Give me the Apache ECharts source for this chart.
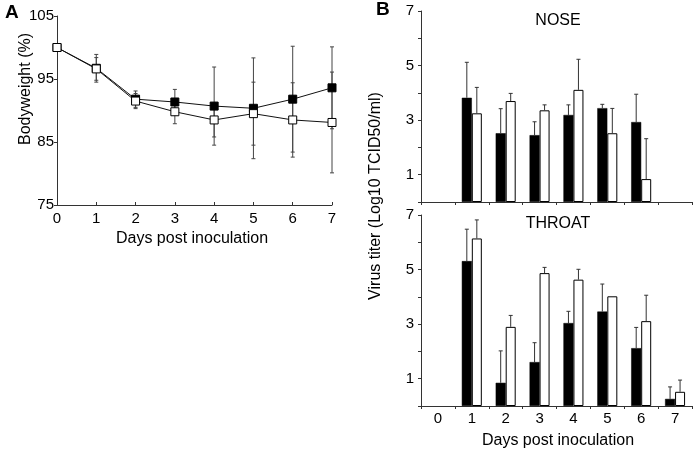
<!DOCTYPE html>
<html><head><meta charset="utf-8">
<script src="https://cdn.jsdelivr.net/npm/echarts@6/dist/echarts.min.js"></script>
<style>html,body{margin:0;padding:0;background:#fff}#c{width:696px;height:455px}</style>
</head><body><div id="c"></div>
<script>
var days = ['0','1','2','3','4','5','6','7'];
var weightFilled = [100, 96.7, 91.8, 91.35, 90.7, 90.35, 91.8, 93.6];
var weightFilledErr = [0, 2.2, 1.3, 2.0, 6.2, 8.0, 8.4, 6.5];
var weightOpen = [100, 96.6, 91.5, 89.8, 88.5, 89.5, 88.5, 88.1];
var weightOpenErr = [0, 1.8, 1.2, 1.9, 2.7, 5.0, 5.9, 8.0];
var weightTicks = [75, 85, 95, 105];

var noseFilled = [null, 3.82, 2.52, 2.45, 3.19, 3.44, 2.93, null];
var noseFilledErr = [null, 1.3, 0.9, 0.49, 0.37, 0.14, 1.02, null];
var noseOpen = [null, 3.25, 3.7, 3.36, 4.11, 2.52, 0.84, null];
var noseOpenErr = [null, 0.95, 0.28, 0.2, 1.12, 0.91, 1.48, null];

var throatFilled = [null, 5.31, 0.85, 1.61, 3.04, 3.46, 2.12, 0.26];
var throatFilledErr = [null, 1.17, 1.17, 0.71, 0.43, 1.01, 0.76, 0.44];
var throatOpen = [null, 6.14, 2.9, 4.87, 4.63, 4.02, 3.11, 0.52];
var throatOpenErr = [null, 0.68, 0.42, 0.21, 0.38, 0, 0.95, 0.43];
var titerLabels = [1, 3, 5, 7];

var FONT = 'Liberation Sans, Arial, sans-serif';
var AX = '#333';
var BARW = 10;

function errData(vals, errs) {
  return vals.map(function (v, i) {
    return (v == null || !errs[i]) ? [i, null, null] : [i, v, errs[i]];
  });
}

function lineErrRender(params, api) {
  var v = api.value(1), e = api.value(2);
  if (v == null || isNaN(v) || !e) return;
  var i = api.value(0);
  var hi = api.coord([i, v + e]);
  var lo = api.coord([i, v - e]);
  var c = 2;
  return {
    type: 'group',
    children: [
      {type: 'line', shape: {x1: hi[0], y1: hi[1], x2: lo[0], y2: lo[1]}, style: {stroke: '#444', lineWidth: 1}},
      {type: 'line', shape: {x1: hi[0] - c, y1: hi[1], x2: hi[0] + c, y2: hi[1]}, style: {stroke: '#444', lineWidth: 1}},
      {type: 'line', shape: {x1: lo[0] - c, y1: lo[1], x2: lo[0] + c, y2: lo[1]}, style: {stroke: '#444', lineWidth: 1}}
    ]
  };
}

function barErrRenderer(side) {
  return function (params, api) {
    var v = api.value(1), e = api.value(2);
    if (v == null || isNaN(v) || !e) return;
    var i = api.value(0);
    var top = api.coord([i, v + e]);
    var base = api.coord([i, v]);
    var x = top[0] + side * BARW / 2;
    var c = 2;
    return {
      type: 'group',
      children: [
        {type: 'line', shape: {x1: x, y1: base[1], x2: x, y2: top[1]}, style: {stroke: '#333', lineWidth: 1}},
        {type: 'line', shape: {x1: x - c, y1: top[1], x2: x + c, y2: top[1]}, style: {stroke: '#333', lineWidth: 1}}
      ]
    };
  };
}

var chart = echarts.init(document.getElementById('c'), null, {renderer: 'canvas'});

var bAxisCommon = function (idx, showLabels) {
  return {
    type: 'category', gridIndex: idx, data: days, boundaryGap: true,
    axisLine: {lineStyle: {color: AX, width: 1}},
    axisTick: {show: true, length: 3, inside: false, lineStyle: {color: AX}},
    axisLabel: {show: showLabels, fontFamily: FONT, fontSize: 15, color: '#000', margin: 5}
  };
};
var bYAxis = function (idx) {
  return {
    type: 'value', gridIndex: idx, min: 0, max: 7, interval: 1,
    axisLine: {show: true, lineStyle: {color: AX, width: 1}},
    axisTick: {show: true, length: 3, lineStyle: {color: AX}},
    splitLine: {show: false},
    axisLabel: {fontFamily: FONT, fontSize: 15, color: '#000', margin: 7,
      formatter: function (v) { return titerLabels.indexOf(v) >= 0 ? String(v) : ''; }}
  };
};

var option = {
  animation: false,
  backgroundColor: '#fff',
  grid: [
    {left: 57, top: 16, width: 275, height: 189},
    {left: 421, top: 11, width: 271, height: 191},
    {left: 421, top: 215, width: 271, height: 191}
  ],
  xAxis: [
    {type: 'category', gridIndex: 0, data: days, boundaryGap: false,
      axisLine: {lineStyle: {color: AX, width: 1}},
      axisTick: {show: true, length: 3, inside: true, lineStyle: {color: AX}},
      axisLabel: {fontFamily: FONT, fontSize: 15, color: '#000', margin: 6}},
    bAxisCommon(1, false),
    bAxisCommon(2, true)
  ],
  yAxis: [
    {type: 'value', gridIndex: 0, min: 75, max: 105, interval: 10,
      axisLine: {show: true, lineStyle: {color: AX, width: 1}},
      axisTick: {show: true, length: 3, lineStyle: {color: AX}},
      splitLine: {show: false},
      axisLabel: {fontFamily: FONT, fontSize: 15, color: '#000', margin: 3,
        formatter: function (v) { return weightTicks.indexOf(v) >= 0 ? String(v) : ''; }}},
    bYAxis(1),
    bYAxis(2)
  ],
  series: [
    {type: 'custom', xAxisIndex: 0, yAxisIndex: 0, renderItem: lineErrRender, data: errData(weightFilled, weightFilledErr), z: 1, silent: true},
    {type: 'custom', xAxisIndex: 0, yAxisIndex: 0, renderItem: lineErrRender, data: errData(weightOpen, weightOpenErr), z: 1, silent: true},
    {type: 'line', xAxisIndex: 0, yAxisIndex: 0, data: weightFilled, symbol: 'rect', symbolSize: 8,
      lineStyle: {color: '#111', width: 1}, itemStyle: {color: '#000', borderColor: '#000', borderWidth: 1}, z: 3},
    {type: 'line', xAxisIndex: 0, yAxisIndex: 0, data: weightOpen, symbol: 'rect', symbolSize: 8,
      lineStyle: {color: '#111', width: 1}, itemStyle: {color: '#fff', borderColor: '#000', borderWidth: 1}, z: 4},

    {type: 'bar', xAxisIndex: 1, yAxisIndex: 1, data: noseFilled, barWidth: BARW, barGap: '0%',
      itemStyle: {color: '#000', borderColor: '#000', borderWidth: 0.5}},
    {type: 'bar', xAxisIndex: 1, yAxisIndex: 1, data: noseOpen, barWidth: BARW, barGap: '0%',
      itemStyle: {color: '#fff', borderColor: '#000', borderWidth: 1}},
    {type: 'custom', xAxisIndex: 1, yAxisIndex: 1, renderItem: barErrRenderer(-1), data: errData(noseFilled, noseFilledErr), z: 3, silent: true},
    {type: 'custom', xAxisIndex: 1, yAxisIndex: 1, renderItem: barErrRenderer(1), data: errData(noseOpen, noseOpenErr), z: 3, silent: true},

    {type: 'bar', xAxisIndex: 2, yAxisIndex: 2, data: throatFilled, barWidth: BARW, barGap: '0%',
      itemStyle: {color: '#000', borderColor: '#000', borderWidth: 0.5}},
    {type: 'bar', xAxisIndex: 2, yAxisIndex: 2, data: throatOpen, barWidth: BARW, barGap: '0%',
      itemStyle: {color: '#fff', borderColor: '#000', borderWidth: 1}},
    {type: 'custom', xAxisIndex: 2, yAxisIndex: 2, renderItem: barErrRenderer(-1), data: errData(throatFilled, throatFilledErr), z: 3, silent: true},
    {type: 'custom', xAxisIndex: 2, yAxisIndex: 2, renderItem: barErrRenderer(1), data: errData(throatOpen, throatOpenErr), z: 3, silent: true}
  ],
  graphic: [
    {type: 'text', left: 5, top: 3, style: {text: 'A', font: 'bold 19px ' + FONT, fill: '#000'}},
    {type: 'text', left: 376, top: 0, style: {text: 'B', font: 'bold 19px ' + FONT, fill: '#000'}},
    {type: 'text', x: 26, y: 89, rotation: Math.PI / 2,
      style: {text: 'Bodyweight (%)', font: '16px ' + FONT, fill: '#000', textAlign: 'center', textVerticalAlign: 'middle'}},
    {type: 'text', x: 376, y: 196, rotation: Math.PI / 2,
      style: {text: 'Virus titer (Log10 TCID50/ml)', font: '16px ' + FONT, fill: '#000', textAlign: 'center', textVerticalAlign: 'middle'}},
    {type: 'text', x: 192, y: 239,
      style: {text: 'Days post inoculation', font: '16px ' + FONT, fill: '#000', textAlign: 'center', textVerticalAlign: 'middle'}},
    {type: 'text', x: 558, y: 441,
      style: {text: 'Days post inoculation', font: '16px ' + FONT, fill: '#000', textAlign: 'center', textVerticalAlign: 'middle'}},
    {type: 'text', x: 558, y: 21,
      style: {text: 'NOSE', font: '16px ' + FONT, fill: '#000', textAlign: 'center', textVerticalAlign: 'middle'}},
    {type: 'text', x: 558, y: 224,
      style: {text: 'THROAT', font: '16px ' + FONT, fill: '#000', textAlign: 'center', textVerticalAlign: 'middle'}}
  ]
};
chart.setOption(option);
</script>
</body></html>
